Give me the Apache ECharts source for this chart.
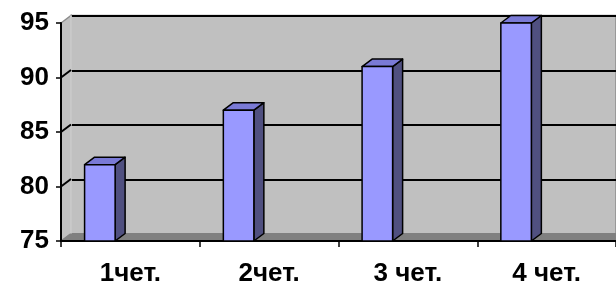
<!DOCTYPE html>
<html>
<head>
<meta charset="utf-8">
<script src="https://cdn.jsdelivr.net/npm/echarts@6/dist/echarts.min.js"></script>
<style>
  html, body { margin: 0; padding: 0; background: #fff; }
  #chart { width: 616px; height: 287px; }
</style>
</head>
<body>
<div id="chart"></div>
<script>
// данные
const categories = ['1чет.', '2чет.', '3 чет.', '4 чет.'];
const values = [82, 87, 91, 95];
const yTicks = [75, 80, 85, 90, 95];

// 3D depth of the "excel" look
const DX = 10, DY = -7.5;
const G = { left: 61, top: 23, width: 556, height: 219 };
const FONT = '"Liberation Sans", Arial, sans-serif';

const chart = echarts.init(document.getElementById('chart'));

function renderBar(params, api) {
  const v = api.value(1);
  const top = api.coord([api.value(0), v]);
  const base = api.coord([api.value(0), yTicks[0]]);
  const band = api.size([1, 0])[0];
  const w = band * 0.22;
  const xl = top[0] - band * 0.33;
  const xr = xl + w;
  const style = { stroke: '#000', lineWidth: 1.5, lineJoin: 'round' };
  return {
    type: 'group',
    children: [
      { type: 'polygon', shape: { points: [[xr, top[1]], [xr + DX, top[1] + DY], [xr + DX, base[1] + DY], [xr, base[1]]] },
        style: Object.assign({ fill: '#505080' }, style) },
      { type: 'polygon', shape: { points: [[xl, top[1]], [xl + DX, top[1] + DY], [xr + DX, top[1] + DY], [xr, top[1]]] },
        style: Object.assign({ fill: '#7A7AD6' }, style) },
      { type: 'rect', shape: { x: xl, y: top[1], width: w, height: base[1] - top[1] },
        style: Object.assign({ fill: '#9999FF' }, style) }
    ]
  };
}

const option = {
  animation: false,
  grid: [
    { left: G.left, top: G.top, width: G.width, height: G.height },
    { left: G.left + DX, top: G.top + DY, width: G.width, height: G.height,
      show: true, backgroundColor: '#C0C0C0', borderColor: '#8C8C8C', borderWidth: 1.5 }
  ],
  xAxis: [
    { type: 'category', gridIndex: 0, data: categories, z: 5,
      axisLine: { lineStyle: { color: '#000', width: 2 } },
      axisTick: { show: true, length: 6, lineStyle: { color: '#000', width: 1.5 } },
      axisLabel: { color: '#000', fontSize: 26, fontWeight: 'bold', fontFamily: FONT, margin: 20 } },
    { type: 'category', gridIndex: 1, data: categories, show: false }
  ],
  yAxis: [
    { type: 'value', gridIndex: 0, min: 75, max: 95, interval: 5, z: 5,
      axisLine: { show: true, lineStyle: { color: '#000', width: 2 } },
      axisTick: { show: true, length: 5, lineStyle: { color: '#000', width: 1.5 } },
      splitLine: { show: false },
      axisLabel: { color: '#000', fontSize: 26, fontWeight: 'bold', fontFamily: FONT, margin: 12 } },
    { type: 'value', gridIndex: 1, min: 75, max: 95, interval: 5,
      axisLine: { show: false }, axisTick: { show: false }, axisLabel: { show: false },
      splitLine: { show: true, lineStyle: { color: '#000', width: 2 } } }
  ],
  series: [{
    type: 'custom',
    xAxisIndex: 0, yAxisIndex: 0,
    z: 10,
    renderItem: renderBar,
    data: categories.map((c, i) => [i, values[i]])
  }]
};

chart.setOption(option);

// боковая стенка и пол
function frame() {
  const x0 = G.left, x1 = G.left + G.width;
  const yTop = chart.convertToPixel({ yAxisIndex: 0 }, yTicks[yTicks.length - 1]);
  const yBot = chart.convertToPixel({ yAxisIndex: 0 }, yTicks[0]);
  const els = [
    { type: 'polygon', z: 1, shape: { points: [[x0, yTop], [x0 + DX, yTop + DY], [x0 + DX, yBot + DY], [x0, yBot]] },
      style: { fill: '#C0C0C0', stroke: '#8C8C8C', lineWidth: 1.5 } },
    { type: 'polygon', z: 1, shape: { points: [[x0, yBot], [x0 + DX, yBot + DY], [x1 + DX, yBot + DY], [x1, yBot]] },
      style: { fill: '#808080', stroke: '#808080', lineWidth: 1 } },
    { type: 'line', z: 1, shape: { x1: x0 + DX, y1: yTop + DY, x2: x0 + DX, y2: yBot + DY },
      style: { stroke: '#DADADA', lineWidth: 1.5 } }
  ];
  yTicks.slice(1, -1).forEach(t => {
    const y = chart.convertToPixel({ yAxisIndex: 0 }, t);
    els.push({ type: 'line', z: 1, shape: { x1: x0, y1: y, x2: x0 + DX, y2: y + DY },
      style: { stroke: '#000', lineWidth: 2 } });
  });
  chart.setOption({ graphic: els });
}
frame();
</script>
</body>
</html>
